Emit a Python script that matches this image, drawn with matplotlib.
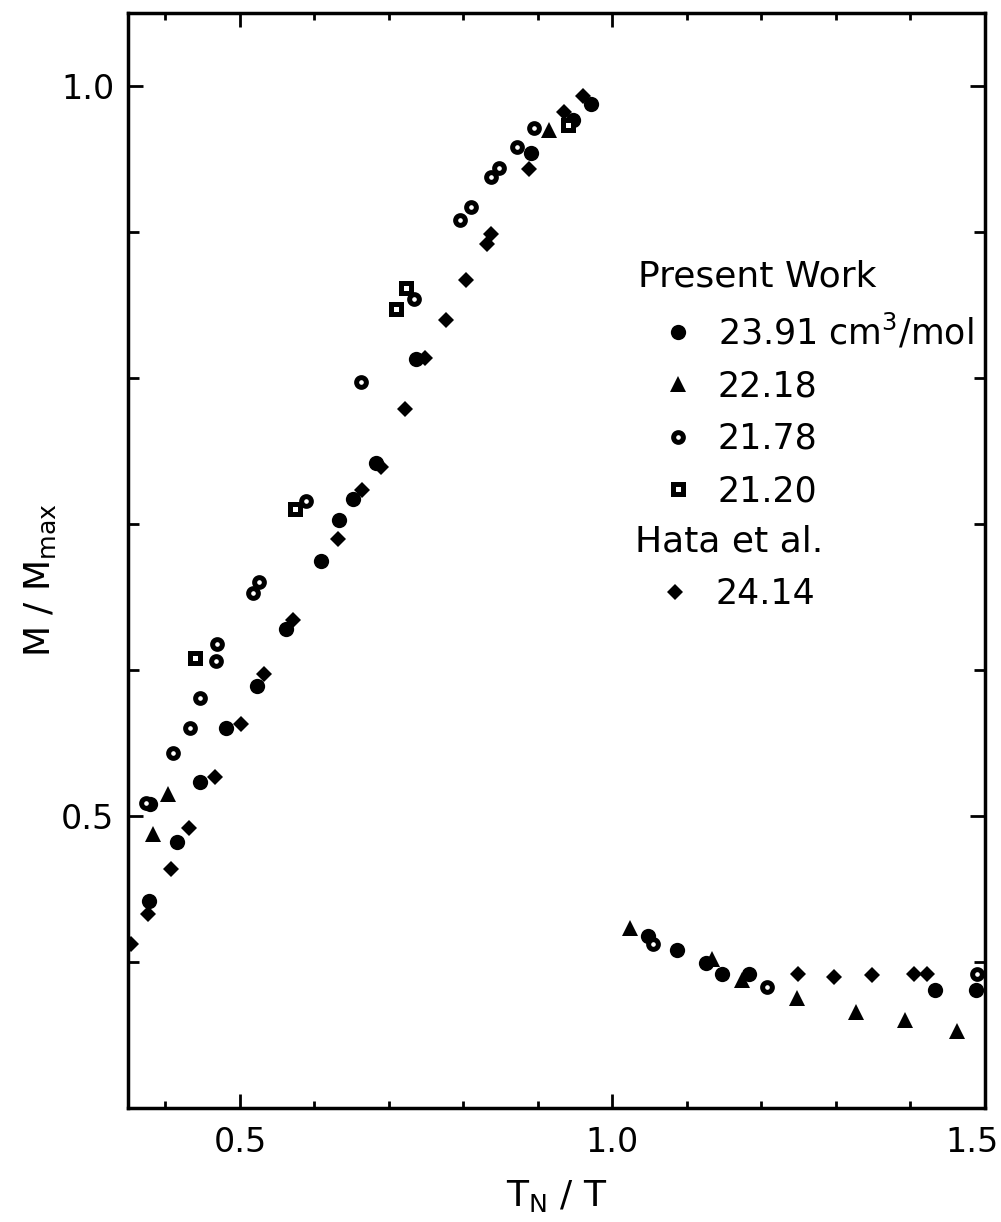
import numpy as np
import matplotlib
matplotlib.use("Agg")
import matplotlib.pyplot as plt
import matplotlib.transforms as mtransforms
from matplotlib.ticker import MultipleLocator, FixedLocator

plt.rcParams['font.family'] = ['DejaVu Sans']
plt.rcParams['mathtext.default'] = 'regular'

# present work, 23.91 cm3/mol (filled circles)
fc_x = [0.378, 0.380, 0.415, 0.447, 0.482, 0.523, 0.562, 0.609, 0.633, 0.652,
        0.683, 0.737, 0.891, 0.947, 0.971,
        1.048, 1.086, 1.125, 1.147, 1.183, 1.433, 1.488]
fc_y = [0.442, 0.508, 0.482, 0.523, 0.560, 0.589, 0.628, 0.675, 0.703, 0.717,
        0.742, 0.813, 0.954, 0.977, 0.988,
        0.418, 0.408, 0.399, 0.392, 0.392, 0.381, 0.381]

# 22.18 (triangles)
tr_x = [0.383, 0.404, 0.915,
        1.024, 1.133, 1.174, 1.248, 1.327, 1.393, 1.462]
tr_y = [0.488, 0.515, 0.970,
        0.423, 0.402, 0.388, 0.375, 0.366, 0.360, 0.353]

# 21.78 (open circles)
oc_x = [0.374, 0.410, 0.433, 0.446, 0.468, 0.469, 0.518, 0.525, 0.589, 0.662,
        0.734, 0.795, 0.810, 0.837, 0.848, 0.872, 0.895,
        1.055, 1.207, 1.489]
oc_y = [0.509, 0.543, 0.560, 0.581, 0.606, 0.618, 0.653, 0.660, 0.716, 0.797,
        0.854, 0.908, 0.917, 0.938, 0.944, 0.958, 0.971,
        0.412, 0.383, 0.392]

# 21.20 (open squares)
sq_x = [0.440, 0.574, 0.709, 0.723, 0.940]
sq_y = [0.608, 0.710, 0.847, 0.862, 0.973]

# Hata et al., 24.14 (diamonds)
hd_x = [0.354, 0.376, 0.407, 0.432, 0.467, 0.501, 0.533, 0.571, 0.632, 0.664,
        0.689, 0.722, 0.749, 0.776, 0.804, 0.831, 0.837, 0.888, 0.935, 0.961,
        1.249, 1.297, 1.348, 1.405, 1.422]
hd_y = [0.412, 0.433, 0.464, 0.492, 0.527, 0.563, 0.597, 0.634, 0.690, 0.723,
        0.739, 0.779, 0.814, 0.840, 0.867, 0.892, 0.899, 0.943, 0.982, 0.993,
        0.392, 0.390, 0.391, 0.392, 0.392]

fig = plt.figure(figsize=(10.01, 12.22), dpi=100)
ax = fig.add_axes([0.128, 0.0933, 0.856, 0.896])

k = 'black'
h1, = ax.plot(fc_x, fc_y, 'o', ms=11, color=k, mew=0)
h2, = ax.plot(tr_x, tr_y, '^', ms=11, color=k, mew=0)
h3, = ax.plot(oc_x, oc_y, 'o', ms=7, mfc='white', mec=k, mew=3.6)
h4, = ax.plot(sq_x, sq_y, 's', ms=7, mfc='white', mec=k, mew=3.6)
h5, = ax.plot(hd_x, hd_y, 'D', ms=8, color=k, mew=0)

ax.set_xlim(0.35, 1.5)
ax.set_ylim(0.3, 1.05)

ax.xaxis.set_major_locator(FixedLocator([0.5, 1.0, 1.5]))
ax.xaxis.set_minor_locator(MultipleLocator(0.1))
ax.yaxis.set_major_locator(FixedLocator([0.5, 1.0]))
ax.yaxis.set_minor_locator(MultipleLocator(0.1))
ax.set_xticklabels(['0.5', '1.0', '1.5'])
ax.set_yticklabels(['0.5', '1.0'])

ax.tick_params(which='both', direction='in', top=True, right=True,
               width=2, color=k, labelsize=24)
ax.tick_params(axis='x', which='major', length=10, pad=13)
ax.tick_params(axis='x', which='minor', length=5)
ax.tick_params(axis='y', which='major', length=11, pad=10)
ax.tick_params(axis='y', which='minor', length=8)
for s in ax.spines.values():
    s.set_linewidth(2.5)

# last x label sits a little left of its tick, inside the figure
lab = ax.get_xticklabels()[-1]
lab.set_transform(lab.get_transform() +
                  mtransforms.ScaledTranslation(-0.13, 0, fig.dpi_scale_trans))

ax.set_xlabel('T$_\\mathregular{N}$ / T', fontsize=26, labelpad=14)
ax.set_ylabel('M / M$_\\mathregular{max}$', fontsize=26)
ax.yaxis.set_label_coords(-0.082, 0.482)

fs = 25
leg1 = ax.legend([h1, h2, h3, h4], ['23.91 cm$^3$/mol', '22.18', '21.78', '21.20'],
                 title='Present Work', title_fontsize=26, fontsize=fs,
                 loc='upper left', bbox_to_anchor=(0.595, 0.775),
                 frameon=False, borderpad=0, borderaxespad=0,
                 handlelength=2.3, handletextpad=0.0, labelspacing=0.53,
                 alignment='left', numpoints=1)
ax.add_artist(leg1)
ax.legend([h5], ['24.14'],
          title='Hata et al.', title_fontsize=26, fontsize=fs,
          loc='upper left', bbox_to_anchor=(0.592, 0.533),
          frameon=False, borderpad=0, borderaxespad=0,
          handlelength=2.3, handletextpad=0.0, labelspacing=0.55,
          alignment='left', numpoints=1)

fig.savefig('out.png', dpi=100)
